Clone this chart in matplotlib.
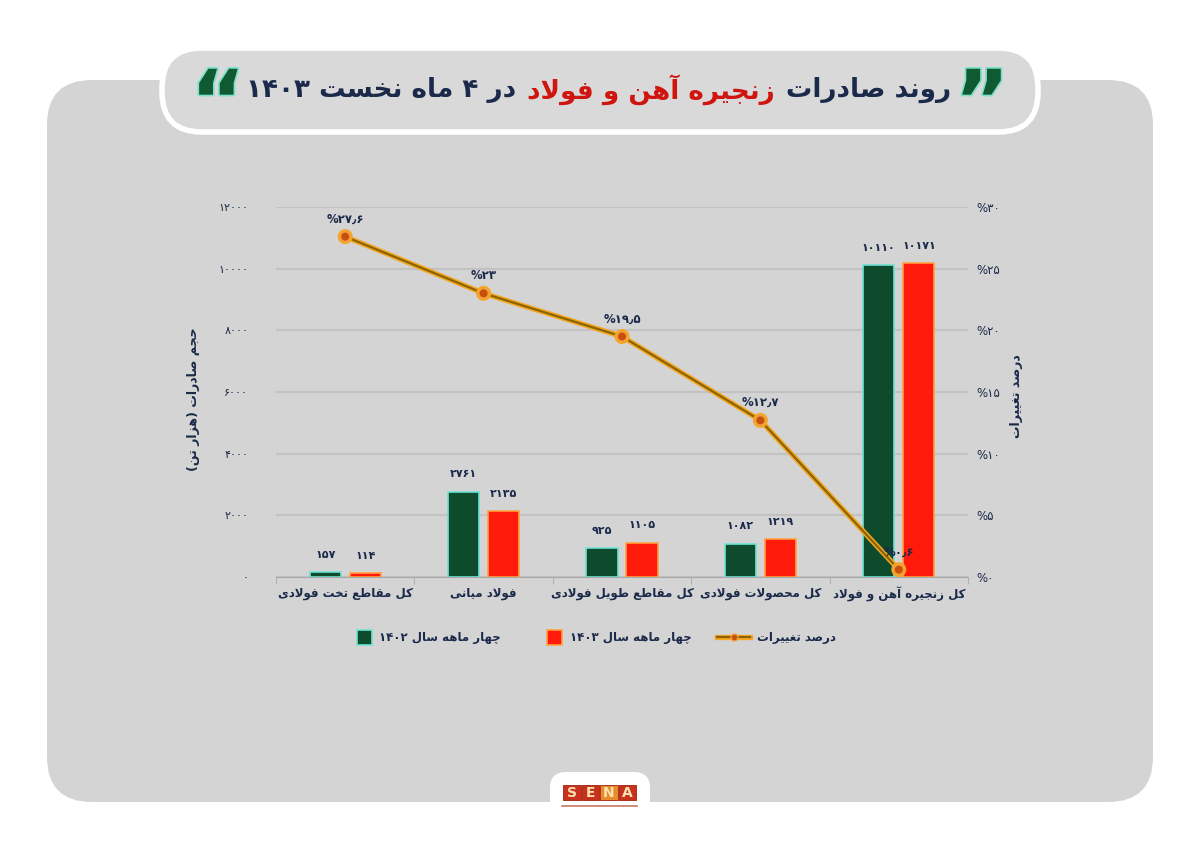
import re

import numpy as np
import matplotlib
matplotlib.use('Agg')
import matplotlib.pyplot as plt
import matplotlib.patheffects as pe
from matplotlib.patches import FancyBboxPatch, Rectangle


categories = ['کل مقاطع تخت فولادی', 'فولاد میانی', 'کل مقاطع طویل فولادی',
              'کل محصولات فولادی', 'کل زنجیره آهن و فولاد']
exports_1402 = [157, 2761, 925, 1082, 10110]
exports_1403 = [114, 2135, 1105, 1219, 10171]
change_pct = [27.6, 23, 19.5, 12.7, 0.6]
left_ticks = [0, 2000, 4000, 6000, 8000, 10000, 12000]
right_ticks = [0, 5, 10, 15, 20, 25, 30]
title_parts = ['روند صادرات', 'زنجیره آهن و فولاد', 'در ۴ ماه نخست ۱۴۰۳']
legend_labels = ['چهار ماهه سال ۱۴۰۲', 'چهار ماهه سال ۱۴۰۳', 'درصد تغییرات']
left_label = 'حجم صادرات (هزار تن)'
right_label = 'درصد تغییرات'

NAVY = '#1b2a4a'
GREEN = '#0e4a2c'
RED = '#ff1a0a'
LINE = '#8a6400'
GLOW = [pe.Stroke(linewidth=3.8, foreground='#f5a623'), pe.Normal()]

# presentation forms: isolated, final, initial, medial
FORMS = {
    'ا': ('\ufe8d', '\ufe8e', None, None),
    'آ': ('\ufe81', '\ufe82', None, None),
    'ب': ('\ufe8f', '\ufe90', '\ufe91', '\ufe92'),
    'پ': ('\ufb56', '\ufb57', '\ufb58', '\ufb59'),
    'ت': ('\ufe95', '\ufe96', '\ufe97', '\ufe98'),
    'ج': ('\ufe9d', '\ufe9e', '\ufe9f', '\ufea0'),
    'چ': ('\ufb7a', '\ufb7b', '\ufb7c', '\ufb7d'),
    'ح': ('\ufea1', '\ufea2', '\ufea3', '\ufea4'),
    'خ': ('\ufea5', '\ufea6', '\ufea7', '\ufea8'),
    'د': ('\ufea9', '\ufeaa', None, None),
    'ر': ('\ufead', '\ufeae', None, None),
    'ز': ('\ufeaf', '\ufeb0', None, None),
    'س': ('\ufeb1', '\ufeb2', '\ufeb3', '\ufeb4'),
    'ص': ('\ufeb9', '\ufeba', '\ufebb', '\ufebc'),
    'ط': ('\ufec1', '\ufec2', '\ufec3', '\ufec4'),
    'ع': ('\ufec9', '\ufeca', '\ufecb', '\ufecc'),
    'غ': ('\ufecd', '\ufece', '\ufecf', '\ufed0'),
    'ف': ('\ufed1', '\ufed2', '\ufed3', '\ufed4'),
    'ق': ('\ufed5', '\ufed6', '\ufed7', '\ufed8'),
    'ک': ('\ufb8e', '\ufb8f', '\ufb90', '\ufb91'),
    'ل': ('\ufedd', '\ufede', '\ufedf', '\ufee0'),
    'م': ('\ufee1', '\ufee2', '\ufee3', '\ufee4'),
    'ن': ('\ufee5', '\ufee6', '\ufee7', '\ufee8'),
    'ه': ('\ufee9', '\ufeea', '\ufeeb', '\ufeec'),
    'و': ('\ufeed', '\ufeee', None, None),
    'ی': ('\ufbfc', '\ufbfd', '\ufbfe', '\ufbff'),
}
LAM_ALEF = {'ا': ('\ufefb', '\ufefc'), 'آ': ('\ufef5', '\ufef6')}


def shape(text):
    out = []
    i = 0
    while i < len(text):
        c = text[i]
        if c not in FORMS:
            out.append(c)
            i += 1
            continue
        prev = text[i - 1] if i > 0 else ''
        joins_prev = prev in FORMS and FORMS[prev][2] is not None
        nxt = text[i + 1] if i + 1 < len(text) else ''
        if c == 'ل' and nxt in LAM_ALEF:
            out.append(LAM_ALEF[nxt][1 if joins_prev else 0])
            i += 2
            continue
        iso, fin, ini, med = FORMS[c]
        joins_next = ini is not None and nxt in FORMS
        if joins_prev and joins_next:
            out.append(med)
        elif joins_prev:
            out.append(fin)
        elif joins_next:
            out.append(ini)
        else:
            out.append(iso)
        i += 1
    return ''.join(out)


def fa(text):
    """shaped text in visual (left to right) order"""
    s = shape(text)[::-1]
    s = re.sub(r'[۰-۹0-9٫]+', lambda m: m.group(0)[::-1], s)
    return s.translate(str.maketrans('()', ')('))


def fa_num(value):
    return str(value).translate(str.maketrans('0123456789.', '۰۱۲۳۴۵۶۷۸۹٫'))


plt.rcParams['font.family'] = ['DejaVu Sans']

W, H = 1200, 843
fig = plt.figure(figsize=(W / 100, H / 100), dpi=100)
fig.patch.set_facecolor('white')

# background drawn in pixel units
bg = fig.add_axes([0, 0, 1, 1], zorder=-5)
bg.set_xlim(0, W)
bg.set_ylim(H, 0)
bg.axis('off')
bg.add_patch(FancyBboxPatch((47, 80), 1106, 722, boxstyle='round,pad=0,rounding_size=45',
                            fc='#d4d4d4', ec='none'))
bg.add_patch(FancyBboxPatch((162, 48), 876, 84, boxstyle='round,pad=0,rounding_size=40',
                            fc='#d9d9d9', ec='white', lw=4))
bg.add_patch(FancyBboxPatch((550, 772), 100, 60, boxstyle='round,pad=0,rounding_size=16',
                            fc='white', ec='none'))
logo_colors = ['#c8321c', '#c8321c', '#e98b2a', '#c8321c']
for k, letter in enumerate('SENA'):
    bg.add_patch(Rectangle((563 + k * 18.5, 785), 17.5, 15, fc=logo_colors[k], ec='#a02010', lw=0.6))
    bg.text(563 + k * 18.5 + 8.75, 793, letter, ha='center', va='center', fontsize=10,
            fontweight='bold', color='#fbe3b0')
bg.plot([562, 637], [806, 806], color='#b04020', lw=1.2, alpha=0.7)

# chart
ax = fig.add_axes([276 / W, 1 - 577 / H, 692 / W, 370 / H])
ax.patch.set_alpha(0)
x = np.arange(len(categories))
bw = 0.225
off = 0.145
b1 = ax.bar(x - off, exports_1402, bw, color=GREEN, edgecolor='#6fe3d2', lw=1.2, zorder=3)
b2 = ax.bar(x + off, exports_1403, bw, color=RED, edgecolor='#ffa040', lw=1.2, zorder=3)
for bars, vals in ((b1, exports_1402), (b2, exports_1403)):
    for rect, v in zip(bars, vals):
        ax.annotate(fa_num(v), (rect.get_x() + rect.get_width() / 2, v), xytext=(0, 9),
                    textcoords='offset points', ha='center', va='bottom', fontsize=8,
                    fontweight='bold', color=NAVY, zorder=5)

ax.set_xlim(-0.5, len(categories) - 0.5)
ax.set_ylim(0, 12000)
ax.set_yticks(left_ticks)
ax.set_yticklabels([fa_num(t) for t in left_ticks], fontsize=8, color=NAVY)
ax.tick_params(axis='y', length=0, pad=20)
ax.set_xticks(x)
ax.set_xticklabels([fa(c) for c in categories], fontsize=8.5, fontweight='bold', color=NAVY)
ax.set_xticks(np.arange(-0.5, len(categories)), minor=True)
ax.tick_params(axis='x', which='major', length=0, pad=7)
ax.tick_params(axis='x', which='minor', length=5, color='#a8a8a8')
ax.grid(axis='y', color='#c2c2c2', lw=1.6, zorder=0)
for side in ('left', 'right', 'top'):
    ax.spines[side].set_visible(False)
ax.spines['bottom'].set_color('#a8a8a8')
ax.set_ylabel(fa(left_label), fontsize=9, fontweight='bold', color=NAVY, rotation=90)
ax.yaxis.set_label_coords(-0.11, 0.48)

ax2 = ax.twinx()
ax2.set_ylim(0, 30)
ax2.set_yticks(right_ticks)
ax2.set_yticklabels(['%' + fa_num(t) for t in right_ticks], fontsize=8.5, color=NAVY)
ax2.tick_params(axis='y', length=0, pad=6)
for side in ax2.spines:
    ax2.spines[side].set_visible(False)
ax2.plot(x, change_pct, color=LINE, lw=1.6, marker='o', ms=7, mfc='#c8500a',
         mec='#f2a040', mew=1.2, zorder=6, path_effects=GLOW)
for xi, p in zip(x, change_pct):
    ax2.annotate('%' + fa_num(p), (xi, p), xytext=(0, 8), textcoords='offset points',
                 ha='center', va='bottom', fontsize=8.5, fontweight='bold', color=NAVY, zorder=7)
ax2.set_ylabel(fa(right_label), fontsize=9, fontweight='bold', color=NAVY, rotation=90)
ax2.yaxis.set_label_coords(1.06, 0.49)

# legend (drawn by hand: square swatches plus a longer line sample)
ly = 637
bg.add_patch(Rectangle((357, ly - 7.5), 15, 15, fc=GREEN, ec='#6fe3d2', lw=1.2))
bg.add_patch(Rectangle((547, ly - 7.5), 15, 15, fc=RED, ec='#ffa040', lw=1.2))
bg.plot([717, 750], [ly, ly], color=LINE, lw=1.6, path_effects=GLOW)
bg.plot([733.5], [ly], 'o', ms=5, mfc='#c8500a', mec='#f2a040', mew=1)
for lx, label in zip([379, 570, 757], legend_labels):
    bg.text(lx, ly, fa(label), ha='left', va='center', fontsize=8.5, fontweight='bold', color=NAVY)

# title: segments placed right to left
title_colors = [NAVY, '#d0140f', NAVY]
texts = [bg.text(0, 90, fa(s), fontsize=24, fontweight='bold', color=c, ha='left', va='center')
         for s, c in zip(title_parts, title_colors)]
fig.canvas.draw()
renderer = fig.canvas.get_renderer()
gap = 10
widths = [t.get_window_extent(renderer).width for t in texts]
scale = (952 - 246 - 2 * gap) / sum(widths)
for t in texts:
    t.set_fontsize(24 * scale)
widths = [w * scale for w in widths]
right = 952
for t, w in zip(texts, widths):
    t.set_x(right - w)
    right -= w + gap

quote_fx = [pe.Stroke(linewidth=2.5, foreground='#7fe0c8'), pe.Normal()]
bg.text(982, 106, '\u201d', fontsize=60, fontweight='bold', color='#0f5a32', ha='center',
        va='center', path_effects=quote_fx)
bg.text(218, 106, '\u201c', fontsize=60, fontweight='bold', color='#0f5a32', ha='center',
        va='center', path_effects=quote_fx)

fig.savefig('out.png', dpi=100, facecolor=fig.get_facecolor())
